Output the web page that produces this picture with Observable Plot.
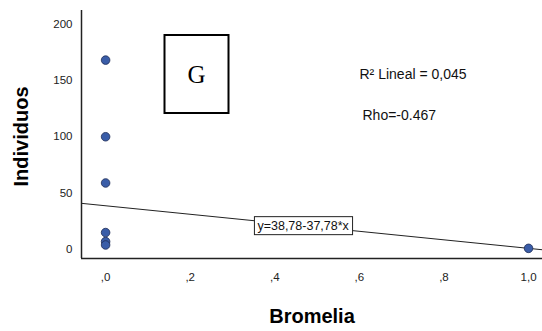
<!DOCTYPE html>
<html><head><meta charset="utf-8">
<script src="https://cdn.jsdelivr.net/npm/d3@7"></script>
<script src="https://cdn.jsdelivr.net/npm/@observablehq/plot@0.6"></script>
<style>
body{margin:0;background:#fff;}
svg{font-family:"Liberation Sans",Arial,sans-serif;}
</style>
</head><body><div id="chart"></div>
<script>
// Data
const bromelia = [0, 0, 0, 0, 0, 0, 1];
const individuos = [168, 100, 59, 15, 7, 4, 1];
const intercept = 38.78;
const slope = -37.78;
const xTicks = [0, 0.2, 0.4, 0.6, 0.8, 1.0];
const yTicks = [0, 50, 100, 150, 200];
const eqLabel = "y=38,78-37,78*x";
const r2Label = "R² Lineal = 0,045";
const rhoLabel = "Rho=-0.467";
const panelLabel = "G";

const xDomain = [-0.057, 1.033];
const yDomain = [-8, 212];
const pts = bromelia.map((b, i) => ({x: b, y: individuos[i]}));
const fit = xDomain.map(x => ({x, y: intercept + slope * x}));

const fmtX = d => { let s = d3.format(".1f")(d).replace(".", ","); return s.startsWith("0") ? s.slice(1) : s; };

const chart = Plot.plot({
  width: 542, height: 331,
  marginLeft: 81, marginRight: 0, marginTop: 10, marginBottom: 73,
  style: {fontSize: "11.5px", color: "#222", background: "#fff"},
  x: {domain: xDomain, ticks: xTicks, tickFormat: fmtX, tickSize: 0, tickPadding: 14, label: null},
  y: {domain: yDomain, ticks: yTicks, tickSize: 0, tickPadding: 9, label: null},
  marks: [
    Plot.line(fit, {x: "x", y: "y", stroke: "#222", strokeWidth: 1}),
    Plot.ruleX([xDomain[0]], {stroke: "#222", strokeWidth: 1.5}),
    Plot.ruleY([yDomain[0]], {stroke: "#222", strokeWidth: 1.5}),
    Plot.dot(pts, {x: "x", y: "y", r: 4.3, fill: "#3a5da8", stroke: "#1e2c55", strokeWidth: 0.8}),
    Plot.text([eqLabel], {x: 0.467, y: intercept + slope * 0.467, text: d => d, fontSize: 12.5, fill: "#111", className: "eq"}),
    Plot.text([panelLabel], {frameAnchor: "top-left", dx: 115, dy: 64, text: d => d, textAnchor: "middle", lineAnchor: "middle", fontSize: 25, fontFamily: "Liberation Serif, Times New Roman, serif", fill: "#000", className: "panel"}),
    Plot.text([r2Label], {frameAnchor: "top-left", dx: 278, dy: 64, text: d => d, fontSize: 14, textAnchor: "start", lineAnchor: "middle", fill: "#111"}),
    Plot.text([rhoLabel], {frameAnchor: "top-left", dx: 281, dy: 105, text: d => d, fontSize: 14, textAnchor: "start", lineAnchor: "middle", fill: "#111"}),
    Plot.text(["Individuos"], {frameAnchor: "left", dx: -60, dy: 2, rotate: -90, textAnchor: "middle", lineAnchor: "middle", text: d => d, fontSize: 20, fontWeight: "bold", fill: "#000"}),
    Plot.text(["Bromelia"], {frameAnchor: "bottom", dy: 58, dx: 0, text: d => d, textAnchor: "middle", lineAnchor: "middle", fontSize: 20, fontWeight: "bold", fill: "#000"})
  ]
});
document.getElementById("chart").appendChild(chart);

function boxAround(cls, padX, padY, stroke, sw, minW, minH) {
  const g = chart.querySelector("g." + cls) || chart.querySelector("." + cls);
  if (!g) return;
  const t = g.querySelector("text");
  const b = t.getBBox();
  const w = Math.max(b.width + 2 * padX, minW || 0), h = Math.max(b.height + 2 * padY, minH || 0);
  const cx = b.x + b.width / 2, cy = b.y + b.height / 2;
  const r = document.createElementNS("http://www.w3.org/2000/svg", "rect");
  r.setAttribute("x", cx - w / 2); r.setAttribute("y", cy - h / 2);
  r.setAttribute("width", w); r.setAttribute("height", h);
  r.setAttribute("fill", "#fff"); r.setAttribute("stroke", stroke); r.setAttribute("stroke-width", sw);
  if (t.getAttribute("transform")) r.setAttribute("transform", t.getAttribute("transform"));
  t.parentNode.insertBefore(r, t);
}
boxAround("eq", 3, 2, "#222", 1, 0, 0);
boxAround("panel", 0, 0, "#000", 2, 64, 78);
</script>
</body></html>
